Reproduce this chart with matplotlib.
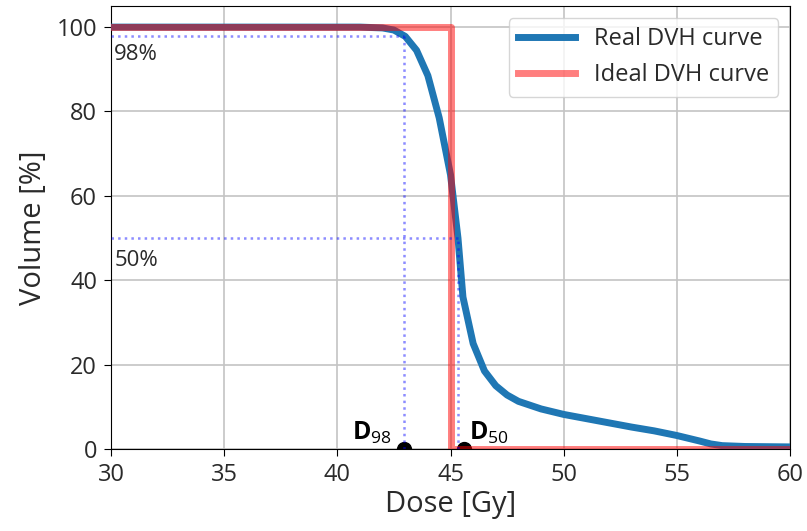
import matplotlib
matplotlib.use("Agg")
import matplotlib.pyplot as plt

plt.rcParams["font.family"] = ["Open Sans", "DejaVu Sans"]
plt.rcParams["mathtext.fontset"] = "custom"
plt.rcParams["mathtext.rm"] = "Open Sans"
plt.rcParams["mathtext.bf"] = "Open Sans:bold"

# Real dose-volume histogram samples
dose = [30, 35, 40, 41, 42, 42.5, 43, 43.5, 44, 44.5, 45, 45.33, 45.55, 46, 46.5, 47, 47.5, 48, 49, 50,
        51, 52, 53, 54, 55, 56, 56.5, 57, 58, 60]
volume = [100, 100, 100, 100, 99.8, 99.3, 97.8, 94.5, 88.5, 78.5, 65, 50, 36, 25, 18.5, 15, 12.8, 11.3, 9.5, 8.2,
          7.2, 6.2, 5.2, 4.3, 3.2, 1.9, 1.2, 0.8, 0.6, 0.5]

# Ideal step DVH
ideal_dose = [30, 45, 45, 60]
ideal_volume = [100, 100, 0, 0]

d98 = 42.95
d50 = 45.33
marker_dose = [42.95, 45.6]

fig = plt.figure(figsize=(8.07, 5.31), dpi=100)
ax = fig.add_axes([0.1375, 0.1544, 0.8415, 0.8343])

ax.plot(dose, volume, color="tab:blue", lw=5, label="Real DVH curve", zorder=3)
ax.plot(marker_dose, [0, 0], "o", color="black", ms=10, zorder=3.5, clip_on=True)
ax.plot(ideal_dose, ideal_volume, color="red", alpha=0.5, lw=5, label="Ideal DVH curve", zorder=4)

dot_kw = dict(ls=":", color="blue", alpha=0.45, lw=1.8, zorder=5)
ax.plot([30, d98], [98, 98], **dot_kw)
ax.plot([d98, d98], [0, 98], **dot_kw)
ax.plot([30, d50], [50, 50], **dot_kw)
ax.plot([d50, d50], [0, 50], **dot_kw)

ax.text(30.15, 92.3, "98%", fontsize=16, color="#2a2a2a")
ax.text(30.15, 43.3, "50%", fontsize=16, color="#2a2a2a")
ax.text(42.4, 2.3, r"$\mathbf{D}_{98}$", fontsize=18, ha="right")
ax.text(45.8, 2.3, r"$\mathbf{D}_{50}$", fontsize=18, ha="left")

ax.set_xlim(30, 60)
ax.set_ylim(0, 105)
ax.set_xticks([30, 35, 40, 45, 50, 55, 60])
ax.set_yticks([0, 20, 40, 60, 80, 100])
ax.tick_params(labelsize=17, length=5, pad=5, labelcolor="#2a2a2a")
ax.grid(True, color="#c4c4c4", lw=1.2)
ax.set_axisbelow(True)
ax.set_xlabel("Dose [Gy]", fontsize=21, labelpad=2, color="#2a2a2a")
ax.set_ylabel("Volume [%]", fontsize=21, labelpad=6, color="#2a2a2a")
ax.legend(loc="upper right", fontsize=17, handlelength=2.4, labelspacing=0.5,
          borderaxespad=0.5, labelcolor="#2a2a2a")

fig.savefig("out.png", dpi=100)
